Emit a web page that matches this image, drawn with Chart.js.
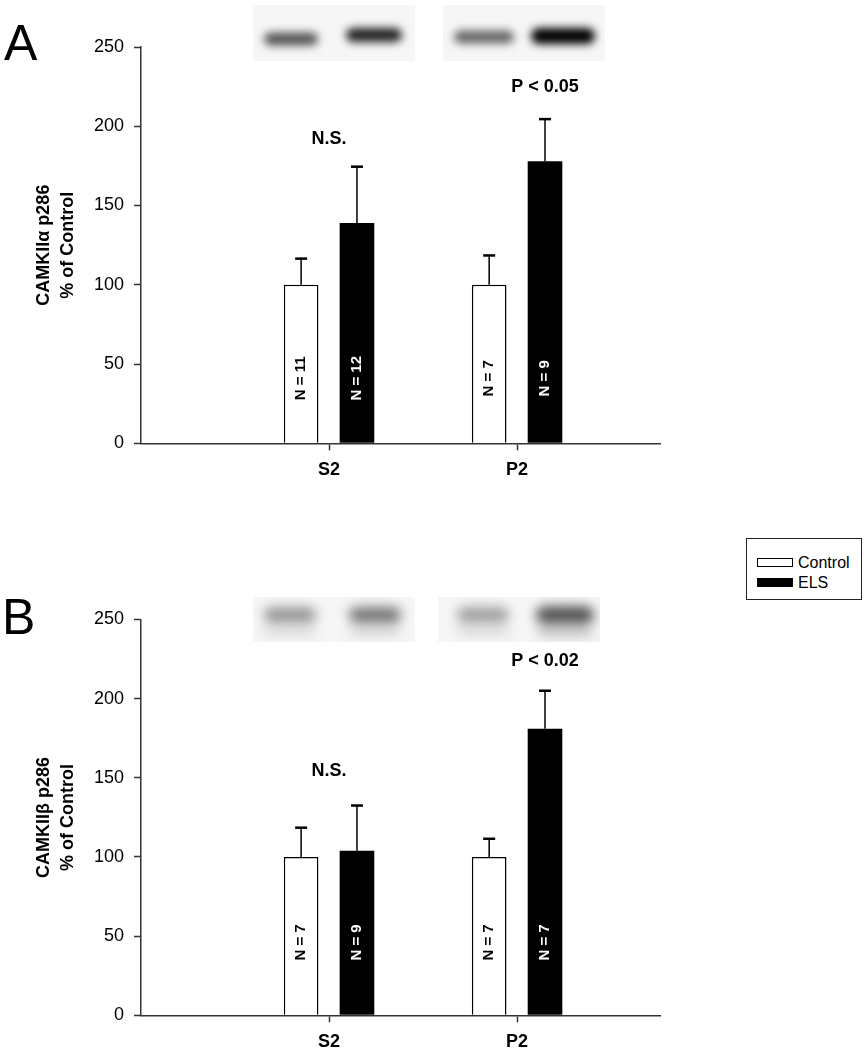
<!DOCTYPE html>
<html lang="en">
<head>
    <meta charset="UTF-8">
    <title>CAMKII p286 - Control vs ELS</title>
    <script src="https://cdn.jsdelivr.net/npm/chart.js@4.4.1/dist/chart.umd.min.js"></script>
    <style>
        body { margin: 0; background: #fff; font-family: 'Liberation Sans', Arial, sans-serif; }
        #wrap { position: relative; width: 864px; height: 1050px; }
        #wrap canvas { position: absolute; left: 0; }
        #legend { position: absolute; left: 746px; top: 538px; width: 114px; height: 60px;
                  border: 1.5px solid #222; background: #fff; }
        #legend .item { position: absolute; left: 10px; height: 12px; font-size: 16px; line-height: 12px; color: #000; }
        #legend .sw { position: absolute; left: 0; top: 1px; width: 34px; height: 7px; border: 1px solid #000; }
        #legend .lbl { position: absolute; left: 41px; top: 0; white-space: nowrap; }
    </style>
</head>
<body>

<div id="wrap">
    <canvas id="chartA" width="864" height="525" style="top:0"></canvas>
    <canvas id="chartB" width="864" height="525" style="top:525px"></canvas>
    <div id="legend"></div>
</div>

<script>
    var categories = ['S2', 'P2'];
    var seriesNames = ['Control', 'ELS'];
    var seriesFill = ['#ffffff', '#000000'];
    var yTicks = [0, 50, 100, 150, 200, 250];
    //
    // panel A : CAMKIIa p286
    var controlA = [100, 100];
    var controlSemA = [16.5, 18.5];
    var elsA = [139, 178];
    var elsSemA = [35.5, 26.5];
    var nControlA = [11, 7];
    var nElsA = [12, 9];
    var sigA = ['N.S.', 'P < 0.05'];
    //
    // panel B : CAMKIIb p286
    var controlB = [100, 100];
    var controlSemB = [18.5, 11.5];
    var elsB = [104, 181];
    var elsSemB = [28.5, 24];
    var nControlB = [7, 7];
    var nElsB = [9, 7];
    var sigB = ['N.S.', 'P < 0.02'];
    //
    var FONT = "'Liberation Sans', Arial, sans-serif";
    var CANVAS_H = 525;

    // western blot strips drawn above each panel (picture only)
    var blotA = {
        blur: 4,
        blocks: [[253, 5, 162, 56], [443, 5, 162, 56]],
        bands: [[291, 39, 54, 13, '#555'], [374, 35, 56, 14, '#222'],
                [484, 37, 60, 13, '#666'], [563, 36, 64, 16, '#000']]
    };
    var blotB = {
        blur: 6,
        blocks: [[253, 72, 162, 45], [438, 72, 162, 45]],
        bands: [[290, 106, 52, 10, '#dcdcdc'], [375, 106, 52, 10, '#d6d6d6'],
                [483, 106, 52, 10, '#dcdcdc'], [565, 106, 56, 12, '#c8c8c8'],
                [290, 90, 52, 16, '#969696'], [375, 90, 52, 16, '#767676'],
                [483, 90, 52, 16, '#a0a0a0'], [565, 90, 58, 18, '#545454']]
    };

    function line(ctx, x1, y1, x2, y2) {
        ctx.beginPath(); ctx.moveTo(x1, y1); ctx.lineTo(x2, y2); ctx.stroke();
    }

    function drawBlot(ctx, blot) {
        blot.blocks.forEach(function(b) {
            ctx.save();
            ctx.beginPath(); ctx.rect(b[0], b[1], b[2], b[3]); ctx.clip();
            ctx.fillStyle = '#f6f6f6';
            ctx.fillRect(b[0], b[1], b[2], b[3]);
            ctx.filter = 'blur(' + blot.blur + 'px)';
            blot.bands.forEach(function(d) {
                ctx.fillStyle = d[4];
                ctx.beginPath();
                ctx.roundRect(d[0] - d[2] / 2, d[1] - d[3] / 2, d[2], d[3], d[3] / 2);
                ctx.fill();
            });
            ctx.restore();
        });
    }

    // error bars, N labels, significance text, panel letter, blot
    function makeDecor(p) {
        return {
            id: 'panelDecor',
            beforeDraw: function(chart) {
                drawBlot(chart.ctx, p.blot);
            },
            afterDatasetsDraw: function(chart) {
                var ctx = chart.ctx, y = chart.scales.y;
                chart.data.datasets.forEach(function(ds, di) {
                    chart.getDatasetMeta(di).data.forEach(function(bar, i) {
                        var top = y.getPixelForValue(ds.data[i].y + ds.sem[i]);
                        ctx.save();
                        ctx.strokeStyle = '#000';
                        ctx.lineWidth = 1.5;
                        line(ctx, bar.x, bar.y, bar.x, top);
                        ctx.lineWidth = 2.5;
                        line(ctx, bar.x - 6, top, bar.x + 6, top);
                        // N = .. inside the bar
                        ctx.translate(bar.x, y.getPixelForValue(p.nLabelAt));
                        ctx.rotate(-Math.PI / 2);
                        ctx.fillStyle = ds.textColor;
                        ctx.font = 'bold 15px ' + FONT;
                        ctx.textAlign = 'center';
                        ctx.textBaseline = 'middle';
                        ctx.fillText('N = ' + ds.nLabels[i], 0, 0);
                        ctx.restore();
                    });
                });
            },
            afterDraw: function(chart) {
                var ctx = chart.ctx, x = chart.scales.x, y = chart.scales.y;
                ctx.save();
                ctx.fillStyle = '#000';
                ctx.textAlign = 'center';
                ctx.textBaseline = 'middle';
                ctx.font = 'bold 18px ' + FONT;
                p.sig.forEach(function(txt, i) {
                    var pos = p.sigPos[i];
                    var px = pos.bar === null ? x.getPixelForValue(i + 1)
                                              : chart.getDatasetMeta(pos.bar).data[i].x;
                    ctx.fillText(txt, px, y.getPixelForValue(pos.at));
                });
                ctx.textAlign = 'left';
                ctx.textBaseline = 'alphabetic';
                ctx.font = '50px ' + FONT;
                ctx.fillText(p.letter, p.letterX, p.letterY);
                ctx.restore();
            }
        };
    }

    function makeChart(canvasId, p) {
        var points = function(arr) {
            return categories.map(function(c, i) { return { x: i + 1, y: arr[i] }; });
        };
        return new Chart(document.getElementById(canvasId), {
            type: 'bar',
            data: {
                datasets: [{
                    label: seriesNames[0],
                    data: points(p.control),
                    sem: p.controlSem,
                    nLabels: p.nControl,
                    textColor: '#000',
                    backgroundColor: seriesFill[0],
                    borderColor: '#000',
                    borderWidth: 1.5
                }, {
                    label: seriesNames[1],
                    data: points(p.els),
                    sem: p.elsSem,
                    nLabels: p.nEls,
                    textColor: '#fff',
                    backgroundColor: seriesFill[1],
                    borderColor: '#000',
                    borderWidth: 0
                }]
            },
            options: {
                responsive: false,
                animation: false,
                devicePixelRatio: 1,
                categoryPercentage: 0.594,
                barPercentage: 0.62,
                layout: { padding: { top: p.plotTop, right: 204, left: 0, bottom: 0 } },
                plugins: {
                    legend: { display: false },
                    tooltip: { enabled: false }
                },
                scales: {
                    x: {
                        type: 'linear',
                        min: 0,
                        max: 2.76,
                        offset: false,
                        afterBuildTicks: function(s) {
                            s.ticks = categories.map(function(c, i) { return { value: i + 1 }; });
                        },
                        afterFit: function(s) { s.height = CANVAS_H - p.plotBottom; },
                        grid: { display: true, offset: false, drawOnChartArea: false,
                                tickLength: 7, tickWidth: 1.5, tickColor: '#333' },
                        border: { color: '#333', width: 1.5 },
                        ticks: {
                            callback: function(v) { return categories[v - 1]; },
                            autoSkip: false, maxRotation: 0, padding: 9, color: '#000',
                            font: { family: FONT, size: 18, weight: 'bold' }
                        }
                    },
                    y: {
                        min: 0,
                        max: 250,
                        afterBuildTicks: function(s) {
                            s.ticks = yTicks.map(function(v) { return { value: v }; });
                        },
                        afterFit: function(s) { s.width = 141; },
                        grid: { display: true, drawOnChartArea: false,
                                tickLength: 7, tickWidth: 1.5, tickColor: '#333' },
                        border: { color: '#333', width: 1.5 },
                        ticks: { padding: 10, color: '#000', font: { family: FONT, size: 18 } },
                        title: {
                            display: true,
                            text: p.yTitle,
                            color: '#000',
                            font: { family: FONT, size: 18, weight: 'bold', lineHeight: 1.33 },
                            padding: { top: 32, bottom: 0 }
                        }
                    }
                }
            },
            plugins: [makeDecor(p)]
        });
    }
    //
    var chartA = makeChart('chartA', {
        control: controlA, controlSem: controlSemA, nControl: nControlA,
        els: elsA, elsSem: elsSemA, nEls: nElsA,
        sig: sigA, sigPos: [{ bar: null, at: 192 }, { bar: 1, at: 224.5 }],
        yTitle: ['CAMKII\u03b1 p286', '% of Control'],
        plotTop: 47, plotBottom: 443.3, nLabelAt: 41,
        letter: 'A', letterX: 4, letterY: 60, blot: blotA
    });
    var chartB = makeChart('chartB', {
        control: controlB, controlSem: controlSemB, nControl: nControlB,
        els: elsB, elsSem: elsSemB, nEls: nElsB,
        sig: sigB, sigPos: [{ bar: null, at: 154 }, { bar: 1, at: 224 }],
        yTitle: ['CAMKII\u03b2 p286', '% of Control'],
        plotTop: 94.5, plotBottom: 490.3, nLabelAt: 46,
        letter: 'B', letterX: 2, letterY: 109, blot: blotB
    });
    //
    // legend box between the two panels
    var legendHtml = '';
    seriesNames.forEach(function(name, i) {
        legendHtml += '<div class="item" style="top:' + (18 + i * 20) + 'px">' +
            '<span class="sw" style="background:' + seriesFill[i] + '"></span>' +
            '<span class="lbl">' + name + '</span></div>';
    });
    document.getElementById('legend').innerHTML = legendHtml;
</script>

</body>
</html>
